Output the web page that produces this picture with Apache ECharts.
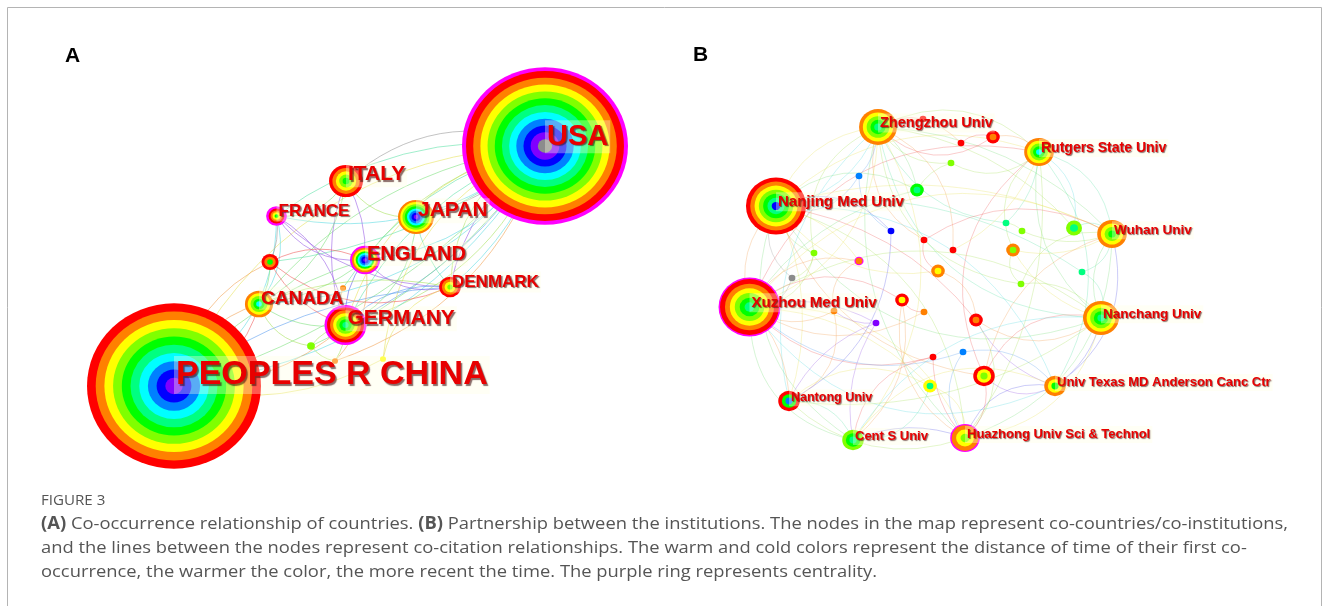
<!DOCTYPE html>
<html><head><meta charset="utf-8">
<script src="https://cdn.jsdelivr.net/npm/echarts@6/dist/echarts.min.js"></script>
<style>html,body{margin:0;padding:0;background:#fff}#c{width:1331px;height:606px}</style>
</head><body><div id="c"></div><script>
// ---------- time slices (oldest -> newest) ----------
const sliceColors = ['#8c8c8c','#8000ff','#0000ff','#0080ff','#00ffff','#00ff80','#00ff00','#80ff00','#ffff00','#ff8000','#ff0000'];
const edgeColors  = ['#9a9a9a','#9b5fe6','#6060e8','#5f9ff0','#5fdbe3','#62e3aa','#7fe07f','#a9e35f','#e8e35f','#f2a255','#f06060'];

// ---------- Panel A: countries ----------
const countryNames = ['PEOPLES R CHINA','USA','ITALY','FRANCE','JAPAN','ENGLAND','','DENMARK','CANADA','GERMANY','','','',''];
const countryX = [124,495,296,226.5,366,315,220,400,209,295.5,293,261,285,333];
const countryY = [336,96,131,166,167,210,212,237,254,275,238,296,311,309];
const countryFreq = [841,765,32,12,36,25,8,13,22,49,1,1.7,1,1];
const countryRings = [
  [10,9,8,7,6,5,4,3,2,1],
  [10,9,8,7,6,5,4,3,2,1,0],
  [10,9,8,7,6],
  [10,9,8,6],
  [9,8,7,6,4,3,2,1],
  [9,8,6,4,3,2,1],
  [10,9,6],
  [10,9,8,7],
  [9,8,7,6,4],
  [10,9,8,7,6,5],
  [9],[7],[9],[8]
];
const countryCentrality = [0,4,0,2.5,0,2,0,0,0,2.5,0,0,0,0];
const countryLinks = [
  [1,9,7],[1,9,5],[1,9,3],[1,9,8],[1,8,4],[1,8,6],[1,0,6],[1,0,8],[1,0,4],[1,7,1],[1,7,4],[1,7,7],
  [1,5,4],[1,5,7],[1,4,0],[1,2,0],[1,3,4],[1,3,5],[1,6,5],[1,13,8],[1,12,9],[1,10,5],[1,11,6],
  [0,8,10],[0,8,9],[0,9,9],[0,5,6],[0,3,4],[0,6,9],[0,13,8],[0,7,3],
  [3,5,1],[3,9,1],[3,7,1],[3,6,0],[3,2,6],[3,8,4],
  [2,9,1],[2,5,1],[2,4,7],[2,8,6],
  [5,9,2],[5,8,6],[5,7,1],[5,12,9],
  [6,9,10],[6,8,6],[6,7,10],[6,5,10],
  [8,9,6],[8,7,7],[8,11,7],
  [9,7,3],[9,11,7],[9,12,7],[9,4,6],[9,10,9],
  [11,12,7],[7,4,5],[7,13,8]
];
const countryLabelSize = [34,29,21,17,21,20,0,17,19,21,0,0,0,0];

// ---------- Panel B: institutions ----------
const instNames = ['Zhengzhou Univ','Rutgers State Univ','Nanjing Med Univ','Wuhan Univ','Xuzhou Med Univ','Nanchang Univ',
  'Univ Texas MD Anderson Canc Ctr','Nantong Univ','Cent S Univ','Huazhong Univ Sci & Technol'];
const instX = [178,339,76,412,49.5,401,355,89,153,265, 293,261,251,159,217,191,224,253,114,159,238,92,306,322,313,374,382,321,134,202,224,176,276,233,263,284,230,223];
const instY = [77,102,156,184,257,268,336,351,390,388, 87,93,113,126,140,181,190,200,203,211,221,228,173,181,200,178,222,234,261,250,262,273,270,307,302,326,336,69];
const instFreq = [31,19,78,19,83,28,10,10,10,19, 4,1,1,1,4,1,1,1,1,1.8,4,1,1,1,4,5.5,1,1,1,4,1,1,4,1,1,10,4,1];
const instRings = [
  [9,8,7,6,5],[9,8,7,6,4],[10,9,8,7,6,5,2],[9,8,7,6],[10,9,8,7,6,5],[9,8,7,6,5],[9,8,6],[10,6,3],[7,6,5],[9,8,7],
  [10,9],[10],[7],[3],[6,5],[2],[10],[10],[7],[9],[9,8],[0],[5],[7],[9,7],[7,5],[5],[7],[9],[10,8],[9],[1],[10,9],[10],[3],[10,8,7],[8,5],[10]
];
const instCentrality = [0,0,0,0,1.5,0,0,0,0,1.5, 0,0,0,0,0,0,0,0,0,1.2,0,0,0,0,0,0,0,0,0,0,0,0,0,0,0,0,0,0];
const instLinks = [
  [0,1,7],[0,2,8],[0,3,6],[0,10,10],[0,11,9],[0,12,7],[0,14,6],[0,16,9],[0,17,9],[0,22,5],[0,25,7],[0,27,7],[0,4,8],[0,9,6],[0,37,10],
  [0,5,5],[0,8,8],[0,7,4],[0,13,3],[0,18,7],
  [1,3,5],[1,10,9],[1,22,5],[1,24,7],[1,25,4],[1,5,6],[1,17,8],[1,35,10],[1,12,7],[1,2,8],[1,9,7],[1,4,10],[1,6,5],
  [2,4,9],[2,7,8],[2,13,3],[2,15,2],[2,18,7],[2,19,8],[2,21,0],[2,14,6],[2,20,8],[2,32,10],[2,5,6],[2,9,7],[2,0,4],
  [2,3,8],[2,8,6],[2,6,4],[2,35,9],[2,26,5],
  [3,25,5],[3,26,5],[3,5,6],[3,24,8],[3,27,7],[3,6,2],[3,35,9],[3,23,7],[3,4,8],[3,9,6],[3,16,10],
  [4,7,9],[4,8,6],[4,9,8],[4,28,9],[4,31,1],[4,21,0],[4,29,10],[4,30,9],[4,36,8],[4,6,4],[4,5,7],[4,33,10],
  [4,14,6],[4,18,7],[4,19,9],[4,34,3],
  [5,6,2],[5,35,10],[5,32,9],[5,27,7],[5,24,8],[5,26,5],[5,9,8],[5,8,4],[5,7,7],
  [6,9,2],[6,35,1],[6,34,3],[6,32,1],[6,8,8],
  [7,8,5],[7,9,7],[7,31,1],[7,28,9],[7,36,8],[7,15,2],
  [8,9,2],[8,36,5],[8,33,10],[8,29,9],[8,31,1],
  [9,36,8],[9,34,3],[9,35,10],[9,33,10],[9,32,7],[9,29,9],
  [10,11,10],[14,12,7],[19,28,9],[20,32,9],[29,30,10],[31,28,1],[16,20,10],[18,21,7],[13,15,3],[22,23,7],[24,27,7]
];
const instLabelSize = [14.5,14,15,13.5,15,13.5,13,12.5,13,13];

// ---------- rendering helpers ----------
function nodeRenderer(freq, rings, cent, k) {
  return function (params, api) {
    const i = api.value(2);
    const p = api.coord([api.value(0), api.value(1)]);
    const R = k * Math.sqrt(freq[i]);
    const children = [];
    let r = R;
    if (cent[i] > 0) {
      children.push({type: 'circle', shape: {cx: 0, cy: 0, r: R}, style: {fill: '#ff00ff'}});
      r = R - cent[i];
    }
    const n = rings[i].length;
    const w = r / n;
    rings[i].forEach(function (s, j) {
      children.push({type: 'circle', shape: {cx: 0, cy: 0, r: r - j * w}, style: {fill: sliceColors[s]}});
    });
    return {type: 'group', x: p[0], y: p[1], scaleY: 0.95, children: children};
  };
}
function labelRenderer(names, sizes, shadow) {
  return function (params, api) {
    const i = api.value(2);
    const p = api.coord([api.value(0), api.value(1)]);
    const fs = sizes[i];
    return {
      type: 'text', x: p[0], y: p[1] + 1 - 0.35 * fs,
      style: {
        text: names[i], fill: '#e80000',
        font: 'bold ' + fs + 'px "Liberation Sans", Arial, sans-serif',
        align: 'left', verticalAlign: 'middle',
        backgroundColor: 'rgba(255,255,225,0.35)', padding: [2, 2, 2, 2],
        textShadowColor: 'rgba(60,10,10,0.6)', textShadowBlur: 1,
        textShadowOffsetX: shadow, textShadowOffsetY: shadow
      }
    };
  };
}
const curvPattern = [0.25, -0.2, 0.15, -0.3];
const curvPatternB = [0.35, -0.3, 0.2, -0.4];
function linkData(links, xs, ys, op, pattern) {
  return links.map(function (l, i) {
    return {
      coords: [[xs[l[0]], ys[l[0]]], [xs[l[1]], ys[l[1]]]],
      lineStyle: {color: edgeColors[l[2]], curveness: pattern[i % 4], opacity: op}
    };
  });
}

const countryNodeData = countryX.map(function (x, i) { return [x, countryY[i], i]; });
const instNodeData = instX.map(function (x, i) { return [x, instY[i], i]; });
const countryLabelData = countryNodeData.filter(function (d) { return countryNames[d[2]] !== ''; });
const instLabelData = instNodeData.filter(function (d) { return d[2] < instNames.length; });

const capFont = '17px "Open Sans", sans-serif';
const capScale = 1.08;
const chart = echarts.init(document.getElementById('c'), null, {renderer: 'canvas'});
const option = {
  animation: false,
  backgroundColor: '#ffffff',
  grid: [
    {left: 50, top: 50, width: 600, height: 400},
    {left: 700, top: 50, width: 600, height: 400}
  ],
  xAxis: [
    {type: 'value', gridIndex: 0, min: 0, max: 600, show: false},
    {type: 'value', gridIndex: 1, min: 0, max: 600, show: false}
  ],
  yAxis: [
    {type: 'value', gridIndex: 0, min: 0, max: 400, inverse: true, show: false},
    {type: 'value', gridIndex: 1, min: 0, max: 400, inverse: true, show: false}
  ],
  series: [
    {type: 'lines', coordinateSystem: 'cartesian2d', xAxisIndex: 0, yAxisIndex: 0, z: 1, silent: true,
     lineStyle: {width: 0.8}, data: linkData(countryLinks, countryX, countryY, 0.75, curvPattern)},
    {type: 'lines', coordinateSystem: 'cartesian2d', xAxisIndex: 1, yAxisIndex: 1, z: 1, silent: true,
     lineStyle: {width: 0.8}, data: linkData(instLinks, instX, instY, 0.4, curvPatternB)},
    {type: 'custom', coordinateSystem: 'cartesian2d', xAxisIndex: 0, yAxisIndex: 0, z: 2, silent: true,
     encode: {x: 0, y: 1}, renderItem: nodeRenderer(countryFreq, countryRings, countryCentrality, 3.0), data: countryNodeData},
    {type: 'custom', coordinateSystem: 'cartesian2d', xAxisIndex: 1, yAxisIndex: 1, z: 2, silent: true,
     encode: {x: 0, y: 1}, renderItem: nodeRenderer(instFreq, instRings, instCentrality, 3.4), data: instNodeData},
    {type: 'custom', coordinateSystem: 'cartesian2d', xAxisIndex: 0, yAxisIndex: 0, z: 3, silent: true,
     encode: {x: 0, y: 1}, renderItem: labelRenderer(countryNames, countryLabelSize, 1.5), data: countryLabelData},
    {type: 'custom', coordinateSystem: 'cartesian2d', xAxisIndex: 1, yAxisIndex: 1, z: 3, silent: true,
     encode: {x: 0, y: 1}, renderItem: labelRenderer(instNames, instLabelSize, 1), data: instLabelData}
  ],
  graphic: [
    {type: 'rect', silent: true, z: 10, shape: {x: 7.5, y: 7.5, width: 1314, height: 640},
     style: {fill: 'none', stroke: '#b4b4b4', lineWidth: 1}},
    {type: 'text', x: 65, y: 64 - 0.35 * 21, z: 10, style: {text: 'A', font: 'bold 21px "Liberation Sans", Arial, sans-serif', fill: '#000', verticalAlign: 'middle'}},
    {type: 'text', x: 693, y: 63 - 0.35 * 21, z: 10, style: {text: 'B', font: 'bold 21px "Liberation Sans", Arial, sans-serif', fill: '#000', verticalAlign: 'middle'}},
    {type: 'text', x: 41, y: 506 - 0.36 * 14, z: 10, scaleX: capScale, style: {text: 'FIGURE 3', font: '14px "Open Sans", sans-serif', fill: '#555', verticalAlign: 'middle'}},
    {type: 'text', x: 41, y: 530 - 0.36 * 17, z: 10, scaleX: capScale, style: {
      text: '{b|(A)} Co-occurrence relationship of countries. {b|(B)} Partnership between the institutions. The nodes in the map represent co-countries/co-institutions,',
      font: capFont, fill: '#555', verticalAlign: 'middle',
      rich: {b: {fontWeight: 'bold', fontSize: 17, fontFamily: '"Open Sans", sans-serif', fill: '#555'}}}},
    {type: 'text', x: 41, y: 554 - 0.36 * 17, z: 10, scaleX: capScale, style: {
      text: 'and the lines between the nodes represent co-citation relationships. The warm and cold colors represent the distance of time of their first co-',
      font: capFont, fill: '#555', verticalAlign: 'middle'}},
    {type: 'text', x: 41, y: 578 - 0.36 * 17, z: 10, scaleX: capScale, style: {
      text: 'occurrence, the warmer the color, the more recent the time. The purple ring represents centrality.',
      font: capFont, fill: '#555', verticalAlign: 'middle'}}
  ]
};
chart.setOption(option);
</script></body></html>
